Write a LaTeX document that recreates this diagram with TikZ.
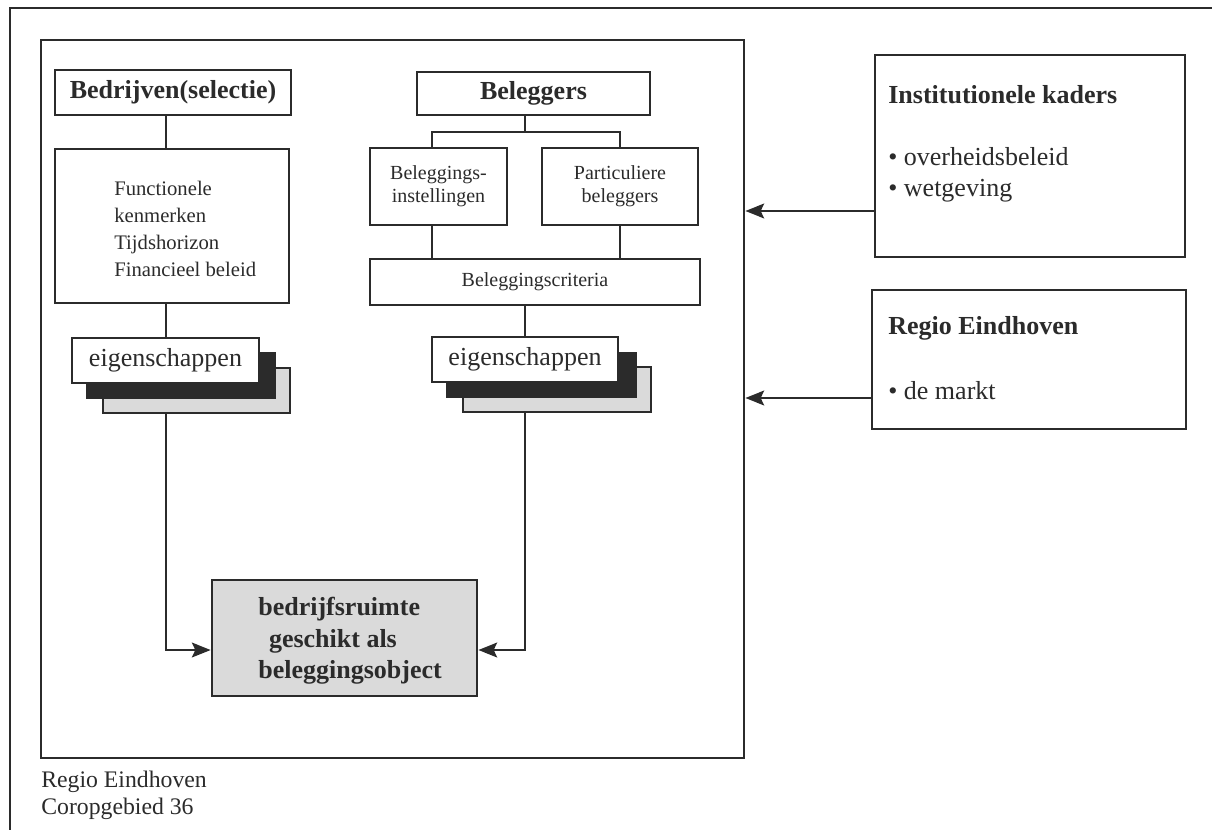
\documentclass[tikz,border=0pt]{standalone}
\usepackage{fontspec}
\setmainfont{Liberation Serif}
\usetikzlibrary{fit,arrows.meta}
\definecolor{ink}{HTML}{2B2B2B}
\definecolor{shade}{HTML}{DADADA}
\newcommand\FBig{\fontsize{19.5pt}{23.5pt}\selectfont\bfseries}
\newcommand\FReg{\fontsize{19.5pt}{23.5pt}\selectfont}
\newcommand\FMid{\fontsize{15.5pt}{20.25pt}\selectfont}
\newcommand\FSma{\fontsize{15pt}{17pt}\selectfont}
\begin{document}
\begin{tikzpicture}[x=0.75pt,y=-0.75pt,color=ink,line width=2pt,
  box/.style={draw=ink,line width=2pt,inner sep=0pt,fill=white},
  frame/.style={draw=ink,line width=2pt,inner sep=0pt},
  darkbox/.style={draw=ink,line width=2pt,inner sep=0pt,fill=ink},
  greybox/.style={draw=ink,line width=2pt,inner sep=0pt,fill=shade},
  lbl/.style={inner sep=0pt,text=ink,align=center},
  txt/.style={inner sep=0pt,text=ink,anchor=west,align=left},
  conn/.style={draw=ink,line width=2pt},
  arr/.style={draw=ink,line width=2pt,-{Stealth[length=14pt,width=11pt,inset=2.5pt]}}]
\useasboundingbox (0,0) rectangle (1212,830);
% outer frame (cut at right and bottom)
\draw[line width=2pt] (10,830) -- (10,8) -- (1212,8);
% inner frame
\node[frame,fit={(41,40)(744,758)}] (frame) {};
% column coordinates
\coordinate (c1) at (166,0);
\coordinate (c3) at (525,0);
\coordinate (c4) at (432,0);
\coordinate (c5) at (620,0);
\coordinate (fork) at (0,132);
\coordinate (row) at (0,650);
\coordinate (a1) at (0,211);
\coordinate (a2) at (0,398);
% left column
\node[box,fit={(55,70)(291,115)}] (bed) {};
\node[lbl,font=\FBig] (bedtxt) at (bed.center) {Bedrijven(selectie)};
\node[box,fit={(55,149)(289,303)}] (func) {};
\node[txt,font=\FMid] (functxt) at (113,229) {Functionele\\kenmerken\\Tijdshorizon\\Financieel beleid};
\node[greybox,fit={(103,368)(290,413)}] (eig1g) {};
\node[darkbox,fit={(87,353)(275,398)}] (eig1d) {};
\node[box,fit={(72,338)(259,383)}] (eig1) {};
\node[lbl,font=\FReg] (eig1txt) at (eig1.center) {eigenschappen};
% right column
\node[box,fit={(417,72)(650,115)}] (bel) {};
\node[lbl,font=\FBig] (beltxt) at (bel.center) {Beleggers};
\node[box,fit={(370,148)(507,225)}] (inst) {};
\node[lbl,font=\FSma] (insttxt) at (inst.center) {Beleggings-\\instellingen};
\node[box,fit={(542,148)(698,225)}] (part) {};
\node[lbl,font=\FSma] (parttxt) at (part.center) {Particuliere\\beleggers};
\node[box,fit={(370,259)(700,305)}] (crit) {};
\node[lbl,font=\FSma] (crittxt) at (crit.center) {Beleggingscriteria};
\node[greybox,fit={(463,367)(651,412)}] (eig2g) {};
\node[darkbox,fit={(447,353)(636,397)}] (eig2d) {};
\node[box,fit={(432,337)(618,382)}] (eig2) {};
\node[lbl,font=\FReg] (eig2txt) at (eig2.center) {eigenschappen};
% result
\node[box,fill=shade,fit={(212,580)(477,696)}] (obj) {};
\node[txt,font=\fontsize{19.5pt}{23.6pt}\selectfont\bfseries] (objtxt) at (257,641) {bedrijfsruimte\\\hspace{8pt}geschikt als\\beleggingsobject};
% external boxes
\node[box,fit={(875,55)(1185,257)}] (ik) {};
\node[txt,font=\FBig] (iktitle) at (887,95) {Institutionele kaders};
\node[txt,font=\fontsize{19.5pt}{23.2pt}\selectfont] (ikitems) at (887,175) {• overheidsbeleid\\• wetgeving};
\node[box,fit={(872,290)(1186,429)}] (re) {};
\node[txt,font=\FBig] (retitle) at (887,328) {Regio Eindhoven};
\node[txt,font=\FReg] (reitem) at (887,391) {• de markt};
% caption
\node[txt,font=\fontsize{17.8pt}{20.2pt}\selectfont] (caption) at (40,795) {Regio Eindhoven\\Coropgebied 36};
% connectors left
\draw[conn] (c1 |- bed.south) -- (c1 |- func.north);
\draw[conn] (c1 |- func.south) -- (c1 |- eig1.north);
\draw[arr] (c1 |- eig1g.south) -- (c1 |- row) -- (obj.west |- row);
% connectors right
\draw[conn] (c3 |- bel.south) -- (c3 |- fork);
\draw[conn] (c4 |- inst.north) -- (c4 |- fork) -- (c5 |- fork) -- (c5 |- part.north);
\draw[conn] (c4 |- inst.south) -- (c4 |- crit.north);
\draw[conn] (c5 |- part.south) -- (c5 |- crit.north);
\draw[conn] (c3 |- crit.south) -- (c3 |- eig2.north);
\draw[arr] (c3 |- eig2g.south) -- (c3 |- row) -- (obj.east |- row);
% external arrows
\draw[arr] (ik.west |- a1) -- (frame.east |- a1);
\draw[arr] (re.west |- a2) -- (frame.east |- a2);
\end{tikzpicture}
\end{document}
